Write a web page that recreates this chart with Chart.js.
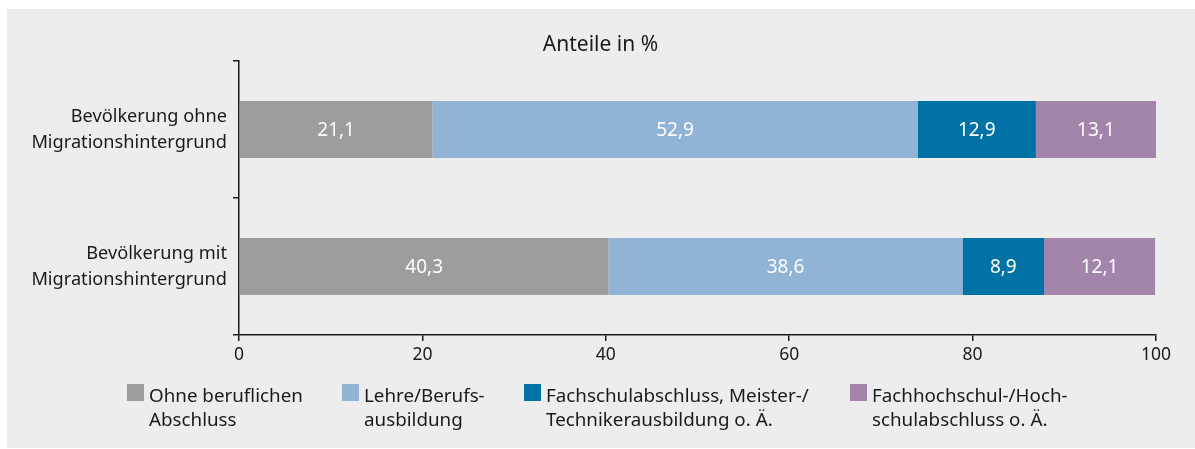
<!DOCTYPE html>
<html lang="de">
<head>
<meta charset="utf-8">
<script src="https://cdn.jsdelivr.net/npm/chart.js@4/dist/chart.umd.min.js"></script>
<style>
  html, body { margin: 0; padding: 0; background: #fff; }
  #panel { position: absolute; left: 7px; top: 9px; width: 1188px; height: 439px; background: #ededed; }
  #wrap { position: absolute; left: 0; top: 0; width: 1195px; height: 449px; }
  #legend { position: absolute; left: 0; top: 0; width: 1195px; height: 449px; pointer-events: none;
    font-family: 'Noto Sans', sans-serif; font-size: 18.8px; line-height: 24px; color: #1a1a1a; }
  .item { position: absolute; top: 383px; }
  .item .box { position: absolute; left: 0; top: 1px; width: 17px; height: 17px; }
  .item .txt { position: absolute; left: 22px; top: 0; white-space: nowrap; }
</style>
</head>
<body>
<div id="panel"></div>
<div id="wrap"><canvas id="chart" width="1195" height="449"></canvas></div>
<div id="legend"></div>
<script>
// --------------------------------------------------------------------------
// data
// --------------------------------------------------------------------------
const categories = [
  ['Bevölkerung ohne', 'Migrationshintergrund'],
  ['Bevölkerung mit', 'Migrationshintergrund'],
];
const seriesNames = [
  ['Ohne beruflichen', 'Abschluss'],
  ['Lehre/Berufs-', 'ausbildung'],
  ['Fachschulabschluss, Meister-/', 'Technikerausbildung o. Ä.'],
  ['Fachhochschul-/Hoch-', 'schulabschluss o. Ä.'],
];
const ohneAbschluss = [21.1, 40.3];
const lehre = [52.9, 38.6];
const fachschule = [12.9, 8.9];
const hochschule = [13.1, 12.1];
const xTicks = [0, 20, 40, 60, 80, 100];

const COLORS = ['#9d9d9c', '#91b3d5', '#0072a5', '#a385ab'];
const FONT = "'Noto Sans', sans-serif";

const fmt = (v) => v.toFixed(1).replace('.', ',');

// value labels inside each bar segment
const barLabels = {
  id: 'barLabels',
  afterDatasetsDraw(chart) {
    const ctx = chart.ctx;
    ctx.save();
    ctx.font = `19px ${FONT}`;
    ctx.fillStyle = '#fff';
    ctx.textAlign = 'center';
    ctx.textBaseline = 'middle';
    chart.data.datasets.forEach((ds, i) => {
      chart.getDatasetMeta(i).data.forEach((bar, j) => {
        const cx = (bar.x + bar.base) / 2;
        ctx.fillText(fmt(ds.data[j]), cx, bar.y + 1);
      });
    });
    ctx.restore();
  },
};

// centre the title over the grey panel instead of the padded box
const titleCenter = {
  id: 'titleCenter',
  afterLayout(chart) {
    if (chart.titleBlock) {
      chart.titleBlock.left = 7;
      chart.titleBlock.right = 1194;
    }
  },
};

const data = [ohneAbschluss, lehre, fachschule, hochschule];

new Chart(document.getElementById('chart'), {
  type: 'bar',
  data: {
    labels: categories,
    datasets: data.map((d, i) => ({
      label: seriesNames[i].join(' '),
      data: d,
      backgroundColor: COLORS[i],
      borderWidth: 0,
      categoryPercentage: 1,
      barPercentage: 0.416,
    })),
  },
  options: {
    indexAxis: 'y',
    responsive: false,
    animation: false,
    layout: { padding: { left: 0, right: 39, top: 0, bottom: 0 } },
    plugins: {
      legend: { display: false },
      tooltip: { enabled: false },
      title: {
        display: true,
        text: 'Anteile in %',
        color: '#1a1a1a',
        font: { family: FONT, size: 21, weight: 'normal', lineHeight: 1.2 },
        padding: { top: 32, bottom: 3.8 },
      },
    },
    scales: {
      x: {
        stacked: true,
        min: 0,
        max: 100,
        afterBuildTicks: (s) => { s.ticks = xTicks.map(v => ({ value: v })); },
        afterFit: (s) => { s.height = 114; },
        border: { display: true, color: '#1a1a1a', width: 1.5 },
        grid: { drawOnChartArea: false, drawTicks: true, tickLength: 6, color: '#1a1a1a', lineWidth: 1.5 },
        ticks: { color: '#1a1a1a', padding: 4, font: { family: FONT, size: 17.5 } },
      },
      y: {
        stacked: true,
        offset: true,
        afterFit: (s) => { s.width = 239; },
        border: { display: true, color: '#1a1a1a', width: 1.5 },
        grid: { offset: true, drawOnChartArea: false, drawTicks: true, tickLength: 6, color: '#1a1a1a', lineWidth: 1.5 },
        ticks: { color: '#1a1a1a', padding: 6, font: { family: FONT, size: 18.2, lineHeight: 1.43 } },
      },
    },
  },
  plugins: [barLabels, titleCenter],
});

// legend with two-line labels
const legendX = [127, 342, 524, 850];
const legend = document.getElementById('legend');
seriesNames.forEach((lines, i) => {
  const el = document.createElement('div');
  el.className = 'item';
  el.style.left = legendX[i] + 'px';
  el.innerHTML = `<div class="box" style="background:${COLORS[i]}"></div>` +
    `<div class="txt">${lines.join('<br>')}</div>`;
  legend.appendChild(el);
});
</script>
</body>
</html>
